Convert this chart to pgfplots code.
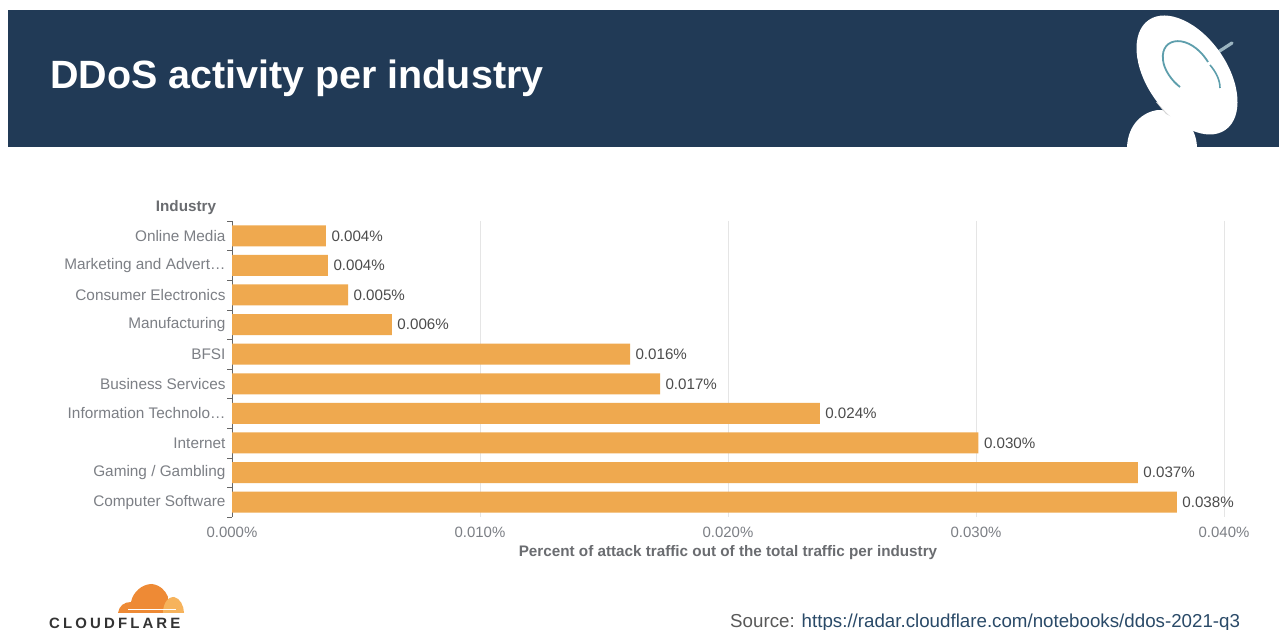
\documentclass[border=0pt]{standalone}
\usepackage{pgfplots}
\pgfplotsset{compat=1.18}
\usepackage{fontspec}
\setmainfont{Liberation Sans}
\definecolor{banner}{HTML}{213A56}
\definecolor{barfill}{HTML}{EFA94F}
\definecolor{ticktext}{HTML}{7C7F85}
\definecolor{axistext}{HTML}{6A6C70}
\definecolor{linkblue}{HTML}{2A4A68}
\definecolor{flareorange}{HTML}{EE8A35}
\definecolor{flarelight}{HTML}{F6B35C}
\begin{document}
\begin{tikzpicture}[x=1bp,y=1bp]
\useasboundingbox (0,0) rectangle (1279,630);
\fill[white] (0,0) rectangle (1279,630);
% header band
\fill[banner] (8,483) rectangle (1279,620);
\node[anchor=west,inner sep=0,text=white,font=\bfseries\fontsize{39.6}{44}\selectfont] at (50,552) {DDoS activity per industry};
% satellite dish emblem
\begin{scope}
\clip (1080,483) rectangle (1279,630);
\fill[white] (1127,483) .. controls (1128,505) and (1142,518) .. (1158,520) .. controls (1180,520) and (1196,505) .. (1197,483) -- cycle;
\fill[black!16] (1156,528) -- (1166,516) -- (1196,502) -- (1214,515) -- cycle;
\draw[line width=3.2pt,line cap=round,color=white!55!cyan!45!gray] (1212,574) -- (1232,587);
\fill[white,rotate around={-55:(1187,555)}] (1187,555) ellipse (67 and 40);
\draw[line width=1.8pt,color=banner!70!cyan!70!white] (1208,568) .. controls (1190,597) and (1160,594) .. (1163,570) .. controls (1164,560) and (1172,549) .. (1180,543);
\draw[line width=1.6pt,color=banner!70!cyan!70!white] (1210,565) .. controls (1216,558) and (1220,550) .. (1220,542);
\end{scope}
% bars, drawn from the percentages
\begin{axis}[
  at={(232bp,113bp)},anchor=south west,
  scale only axis,width=992bp,height=296bp,
  xbar,bar width=21bp,
  xmin=0,xmax=0.04,ymin=-0.5,ymax=9.5,
  y dir=reverse,
  axis y line*=left,axis x line*=bottom,
  x axis line style={draw=none,-},y axis line style={color=black!60,-},
  ytick={0,1,2,3,4,5,6,7,8,9},
  yticklabels={Online Media,Marketing and Advert\ldots,Consumer Electronics,Manufacturing,BFSI,Business Services,Information Technolo\ldots,Internet,Gaming / Gambling,Computer Software},
  minor ytick={-0.5,0.5,1.5,2.5,3.5,4.5,5.5,6.5,7.5,8.5,9.5},
  y tick style={draw=none},
  minor y tick style={draw=black!60},
  major tick length=0pt,minor tick length=5bp,
  yticklabel style={font=\fontsize{15.4}{17}\selectfont,text=ticktext,xshift=-3bp},
  ymajorgrids=false,xmajorgrids,
  x grid style={black!10,line width=0.7pt},
  xtick={0,0.01,0.02,0.03,0.04},
  xticklabels={0.000\%,0.010\%,0.020\%,0.030\%,0.040\%},
  x tick style={draw=none},
  xticklabel style={font=\fontsize{15}{17}\selectfont,text=ticktext,yshift=-7bp},
  scaled x ticks=false,
  xlabel={Percent of attack traffic out of the total traffic per industry},
  xlabel style={font=\bfseries\fontsize{15.3}{17}\selectfont,text=axistext,yshift=-1bp},
  point meta=x,
  nodes near coords={\pgfmathprintnumber[fixed,zerofill,precision=3,assume math mode=true]{\pgfplotspointmeta}\%},
  nodes near coords align={horizontal},
  every node near coord/.append style={font=\fontsize{15.2}{17}\selectfont,text=black!70,xshift=2bp},
  clip=false,
]
\addplot[draw=none,fill=barfill] coordinates {
  (0.00379,0) (0.00387,1) (0.00468,2) (0.00645,3) (0.01605,4)
  (0.01726,5) (0.02370,6) (0.03010,7) (0.03653,8) (0.03810,9)
};
\end{axis}
\node[font=\bfseries\fontsize{15.3}{17}\selectfont,text=axistext] at (186,422) {Industry};
% logo
\fill[flareorange] (118,17) .. controls (119,24) and (124,28) .. (131,28) .. controls (133,38) and (142,46) .. (152,46) .. controls (160,45) and (166,39) .. (168,33) .. controls (168,26) and (167,20) .. (166,17) -- cycle;
\fill[flarelight] (163,17) .. controls (163,24) and (166,33) .. (174,33) .. controls (180,32) and (184,24) .. (184,17) -- cycle;
\draw[white,line width=0.8pt] (128,21) -- (176,21);
\node[anchor=west,font=\bfseries\fontsize{15}{16}\selectfont,text=black!80,inner sep=0] at (49,7) {\addfontfeature{LetterSpace=21}CLOUDFLARE};
\node[anchor=west,font=\fontsize{18.8}{20}\selectfont,inner sep=0,text=black!65] at (730,7.5) {Source: \textcolor{linkblue}{https://radar.cloudflare.com/notebooks/ddos-2021-q3}};
\end{tikzpicture}
\end{document}
